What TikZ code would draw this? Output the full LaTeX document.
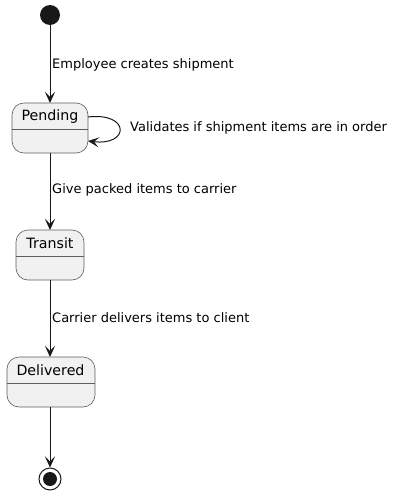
\documentclass[tikz,border=0pt]{standalone}
\usepackage{fontspec}
\setmainfont{DejaVu Sans}
\usetikzlibrary{arrows.meta,calc}
\definecolor{stfill}{HTML}{F1F1F1}
\definecolor{stline}{HTML}{181818}
\tikzset{
  every node/.style={font=\fontsize{13}{15}\selectfont, text=black},
  statebox/.style={draw=stline!70, line width=0.6pt, fill=stfill, rounded corners=12pt},
  stname/.style={font=\fontsize{14.2}{16}\selectfont},
  trans/.style={draw=stline, line width=1pt, -{Stealth[length=11pt,width=10pt,inset=5pt]}},
  lbl/.style={anchor=west, inner sep=0pt},
}
\begin{document}
\begin{tikzpicture}[x=1pt,y=-1pt]
\useasboundingbox (0,0) rectangle (400,495);
% initial
\node[circle, fill=stline, minimum size=20pt, inner sep=0pt] (init) at (50,15) {};
% Pending
\draw[statebox] (12,103) rectangle (88,153);
\draw[stline!70, line width=0.6pt] (12,129) -- (88,129);
\node[stname] (pend) at (50,117) {Pending};
\coordinate (pendT) at (50,103);
\coordinate (pendB) at (50,153);
\coordinate (pendR1) at (88,117);
\coordinate (pendR2) at (88,141);
% Transit
\draw[statebox] (16,230) rectangle (84,280);
\draw[stline!70, line width=0.6pt] (16,256) -- (84,256);
\node[stname] (trans) at (50,243) {Transit};
\coordinate (transT) at (50,230);
\coordinate (transB) at (50,280);
% Delivered
\draw[statebox] (7,357) rectangle (95,407);
\draw[stline!70, line width=0.6pt] (7,383) -- (95,383);
\node[stname] (deliv) at (50.5,370) {Delivered};
\coordinate (delivT) at (50,357);
\coordinate (delivB) at (50,407);
% final
\node[circle, draw=stline, line width=1pt, fill=white, minimum size=22pt, inner sep=0pt] (fin) at (50,479) {};
\node[circle, fill=stline, minimum size=14pt, inner sep=0pt] (finIn) at (fin) {};
% transitions
\draw[trans] (init) -- (pendT);
\node[lbl] (l1) at (52,65) {Employee creates shipment};
\draw[trans] (pendR1) .. controls (130,112) and (130,146) .. (pendR2);
\node[lbl] (l2) at (130,128) {Validates if shipment items are in order};
\draw[trans] (pendB) -- (transT);
\node[lbl] (l3) at (52,190) {Give packed items to carrier};
\draw[trans] (transB) -- (delivT);
\node[lbl] (l4) at (52,318) {Carrier delivers items to client};
\draw[trans] (delivB) -- (fin);
\end{tikzpicture}
\end{document}
